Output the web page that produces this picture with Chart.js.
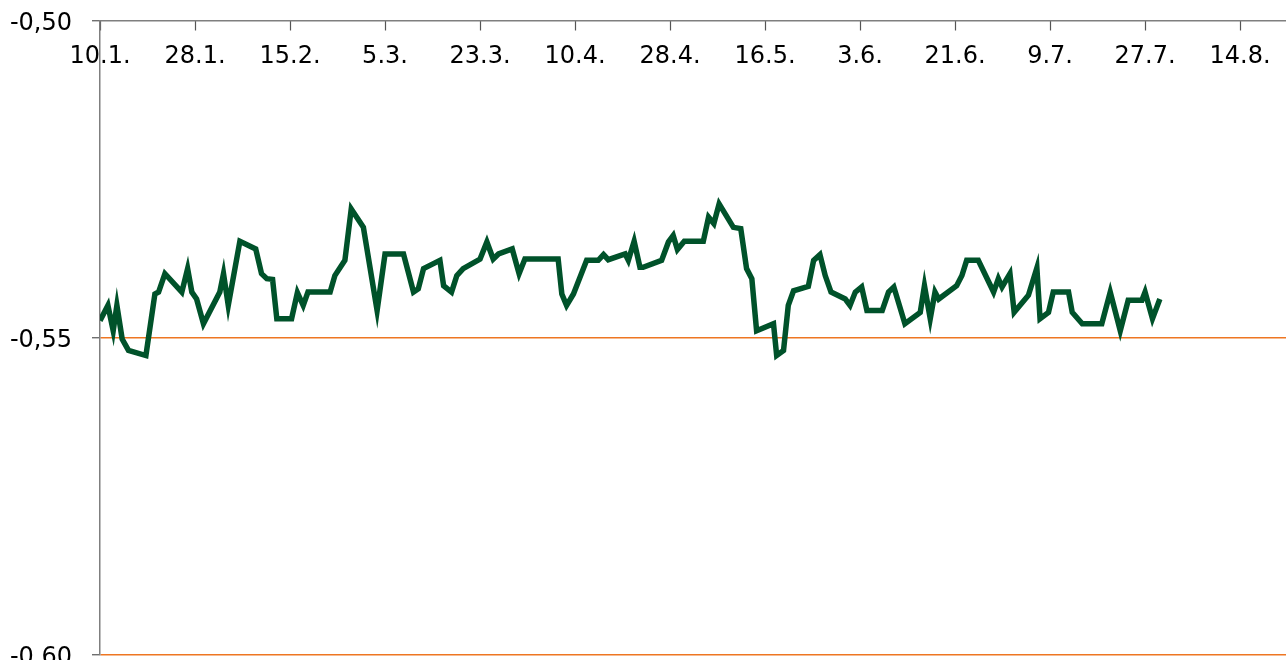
<!DOCTYPE html>
<html>
<head>
<meta charset="utf-8">
<script src="https://cdn.jsdelivr.net/npm/chart.js@4/dist/chart.umd.min.js"></script>
<style>
  html, body { margin: 0; padding: 0; background: #ffffff; }
  #wrap { width: 1286px; height: 660px; }
</style>
</head>
<body>
<div id="wrap"><canvas id="c" width="1286" height="660"></canvas></div>
<script>
// Days since 10.1. (x positions of the series' vertices)
const days = [
  0, 1.5, 2.5, 3.2, 4.2, 5.4, 8.7, 10.4, 11.1, 12.3,
  15.5, 16.6, 17.4, 18.3, 19.6, 22.7, 23.4, 24.3, 26.5, 29.5,
  30.6, 31.6, 32.7, 33.5, 36.3, 37.4, 38.5, 39.4, 43.6, 44.5,
  46.4, 47.6, 49.9, 52.5, 54.0, 57.5, 59.4, 60.3, 61.3, 64.4,
  65.1, 66.6, 67.6, 68.8, 72.0, 73.3, 74.5, 75.5, 78.1, 79.4,
  80.5, 86.8, 87.5, 88.4, 89.7, 92.2, 94.4, 95.4, 96.3, 99.5,
  100.1, 101.2, 102.3, 102.9, 106.4, 107.7, 108.6, 109.4, 110.7, 114.3,
  115.3, 116.3, 117.3, 120.0, 121.4, 122.5, 123.5, 124.4, 127.6, 128.2,
  129.5, 130.4, 131.4, 134.2, 135.2, 136.4, 137.4, 138.5, 141.2, 142.1,
  143.1, 144.3, 145.3, 148.2, 149.4, 150.4, 152.5, 155.4, 156.2, 157.3,
  158.2, 158.9, 162.3, 163.3, 164.2, 166.4, 169.3, 170.2, 170.9, 172.4,
  173.2, 175.9, 177.5, 178.1, 179.7, 180.6, 183.5, 184.2, 186.1, 189.8,
  191.4, 193.3, 194.8, 197.4, 198.0, 199.4, 200.8
];
const values = [
  -0.5473, -0.5449, -0.5489, -0.5449, -0.5502, -0.5520, -0.5528, -0.5431, -0.5428, -0.5399,
  -0.5428, -0.5391, -0.5428, -0.5439, -0.5478, -0.5428, -0.5399, -0.5449, -0.5348, -0.5360,
  -0.5399, -0.5407, -0.5408, -0.5470, -0.5470, -0.5429, -0.5449, -0.5428, -0.5428, -0.5402,
  -0.5378, -0.5297, -0.5326, -0.5457, -0.5368, -0.5368, -0.5428, -0.5423, -0.5391, -0.5378,
  -0.5418, -0.5428, -0.5402, -0.5391, -0.5376, -0.5349, -0.5376, -0.5368, -0.5360, -0.5399,
  -0.5376, -0.5376, -0.5431, -0.5449, -0.5431, -0.5378, -0.5378, -0.5369, -0.5377, -0.5368,
  -0.5378, -0.5348, -0.5389, -0.5389, -0.5378, -0.5349, -0.5339, -0.5361, -0.5348, -0.5348,
  -0.5310, -0.5320, -0.5289, -0.5326, -0.5328, -0.5391, -0.5407, -0.5489, -0.5478, -0.5528,
  -0.5520, -0.5449, -0.5426, -0.5419, -0.5378, -0.5369, -0.5402, -0.5428, -0.5439, -0.5449,
  -0.5428, -0.5420, -0.5457, -0.5457, -0.5428, -0.5420, -0.5478, -0.5460, -0.5418, -0.5470,
  -0.5428, -0.5439, -0.5418, -0.5402, -0.5378, -0.5378, -0.5428, -0.5407, -0.5420, -0.5399,
  -0.5460, -0.5433, -0.5390, -0.5470, -0.5460, -0.5428, -0.5428, -0.5460, -0.5478, -0.5478,
  -0.5428, -0.5489, -0.5441, -0.5441, -0.5428, -0.5470, -0.5439
];

// X tick positions (days since 10.1.) and their labels
const xTickDays = [0, 18, 36, 54, 72, 90, 108, 126, 144, 162, 180, 198, 216];
const xTickLabels = ['10.1.', '28.1.', '15.2.', '5.3.', '23.3.', '10.4.', '28.4.', '16.5.', '3.6.', '21.6.', '9.7.', '27.7.', '14.8.'];
const xMin = 0;
const xMax = 224.7;

// Y ticks
const yTickValues = [-0.60, -0.55, -0.50];
const yTickLabels = ['-0,60', '-0,55', '-0,50'];

const points = days.map((d, i) => ({ x: d, y: values[i] }));

const FONT = { family: 'DejaVu Sans', size: 24 };

new Chart(document.getElementById('c'), {
  type: 'line',
  data: {
    datasets: [{
      data: points,
      borderColor: '#00522a',
      borderWidth: 5.5,
      pointRadius: 0,
      tension: 0,
      fill: false
    }]
  },
  options: {
    responsive: false,
    devicePixelRatio: 1,
    animation: false,
    events: [],
    layout: { padding: { top: 0, right: 0, bottom: 5, left: 0 } },
    plugins: { legend: { display: false }, tooltip: { enabled: false } },
    scales: {
      x: {
        type: 'linear',
        position: 'top',
        min: xMin,
        max: xMax,
        afterBuildTicks: (s) => { s.ticks = xTickDays.map(v => ({ value: v })); },
        afterFit: (s) => { s.height = 20.5; s.paddingLeft = 0; s.paddingRight = 0; s.paddingTop = 0; s.paddingBottom = 0; },
        ticks: {
          mirror: true,
          padding: 22,
          color: '#000000',
          font: FONT,
          maxRotation: 0,
          autoSkip: false,
          callback: (v) => { const i = xTickDays.indexOf(v); return i >= 0 ? xTickLabels[i] : ''; }
        },
        grid: {
          drawOnChartArea: false,
          drawTicks: true,
          tickLength: -10,
          tickColor: '#555555',
          tickWidth: 1.2
        },
        border: { display: true, color: '#7f7f7f', width: 1.5 }
      },
      y: {
        type: 'linear',
        position: 'left',
        min: -0.60,
        max: -0.50,
        afterBuildTicks: (s) => { s.ticks = yTickValues.map(v => ({ value: v })); },
        afterFit: (s) => { s.width = 100; s.paddingTop = 0; s.paddingBottom = 0; s.paddingLeft = 0; s.paddingRight = 0; },
        ticks: {
          padding: 20,
          labelOffset: 3,
          color: '#000000',
          font: FONT,
          callback: (v) => {
            let i = yTickValues.findIndex(t => Math.abs(t - v) < 1e-9);
            return i >= 0 ? yTickLabels[i] : '';
          }
        },
        grid: {
          drawOnChartArea: true,
          drawTicks: true,
          tickLength: 8,
          color: (ctx) => (ctx.tick && Math.abs(ctx.tick.value + 0.50) < 1e-9) ? 'rgba(0,0,0,0)' : '#ee7622',
          lineWidth: 1.5,
          tickColor: '#555555',
          tickWidth: 1.2
        },
        border: { display: true, color: '#7f7f7f', width: 1.5 }
      }
    }
  }
});
</script>
</body>
</html>
